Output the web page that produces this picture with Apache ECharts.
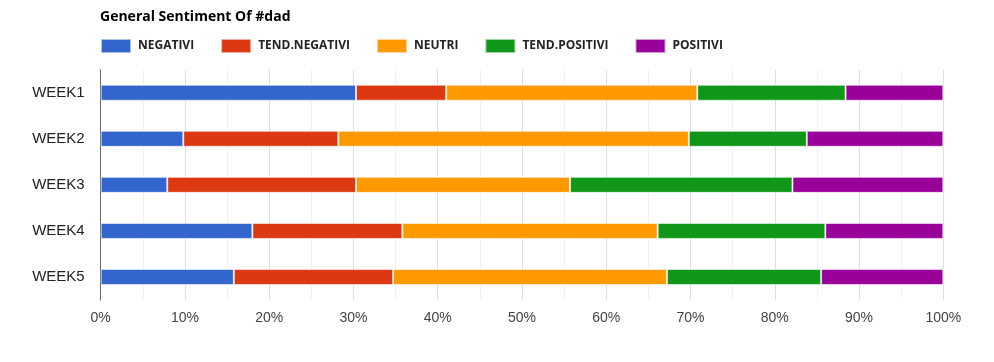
<!DOCTYPE html>
<html>
<head>
<meta charset="utf-8">
<script src="https://cdn.jsdelivr.net/npm/echarts@6/dist/echarts.min.js"></script>
<style>html,body{margin:0;padding:0;background:#fff}#c{width:994px;height:362px}</style>
</head>
<body>
<div id="c"></div>
<script>
const weeks = ['WEEK1', 'WEEK2', 'WEEK3', 'WEEK4', 'WEEK5'];
const seriesNames = ['NEGATIVI', 'TEND.NEGATIVI', 'NEUTRI', 'TEND.POSITIVI', 'POSITIVI'];
const negativi = [30.3, 9.8, 7.9, 18.0, 15.8];
const tendNegativi = [10.7, 18.4, 22.4, 17.8, 18.9];
const neutri = [29.8, 41.6, 25.4, 30.3, 32.5];
const tendPositivi = [17.6, 14.0, 26.4, 19.9, 18.3];
const positivi = [11.6, 16.2, 17.9, 14.0, 14.5];
const colors = ['#3366cc', '#dc3912', '#ff9900', '#109618', '#990099'];
const values = [negativi, tendNegativi, neutri, tendPositivi, positivi];

const chart = echarts.init(document.getElementById('c'));
chart.setOption({
  animation: false,
  color: colors,
  title: {
    text: 'General Sentiment Of #dad',
    left: 100, top: 10, padding: 0,
    textStyle: { fontFamily: 'Open Sans', fontWeight: 'bold', fontSize: 14, color: '#000' }
  },
  legend: {
    data: seriesNames,
    left: 100, top: 38, padding: 0,
    itemWidth: 30, itemHeight: 14, itemGap: 26,
    icon: 'rect',
    textStyle: { fontFamily: 'Open Sans', fontWeight: 'bold', fontSize: 12, color: '#222', padding: [0, 0, 0, 2] }
  },
  grid: { left: 100.7, right: 50.7, top: 69.7, bottom: 62, containLabel: false },
  xAxis: {
    type: 'value', min: 0, max: 100, interval: 10,
    axisLine: { show: false }, axisTick: { show: false },
    axisLabel: { formatter: '{value}%', fontFamily: 'Liberation Sans', fontSize: 14, color: '#444', margin: 11 },
    splitLine: { show: true, lineStyle: { color: '#dedede', width: 1 } },
    minorTick: { show: false, splitNumber: 2 },
    minorSplitLine: { show: true, lineStyle: { color: '#f1f1f1', width: 1 } }
  },
  yAxis: {
    type: 'category', data: weeks, inverse: true,
    axisLine: { show: true, lineStyle: { color: '#666', width: 1 } },
    axisTick: { show: false },
    axisLabel: { fontFamily: 'Liberation Sans', fontSize: 15, color: '#222', margin: 16 }
  },
  series: seriesNames.map((n, i) => ({
    name: n, type: 'bar', stack: 'total', barWidth: 16,
    data: values[i],
    itemStyle: { color: colors[i], borderColor: 'rgba(255,255,255,0.6)', borderWidth: 1 }
  }))
});
</script>
</body>
</html>
